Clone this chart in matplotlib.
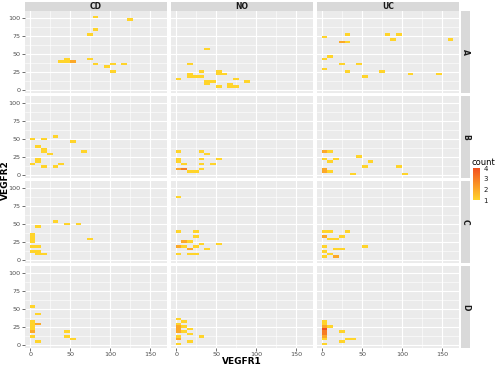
import numpy as np
import matplotlib
matplotlib.use('Agg')
import matplotlib.pyplot as plt
from matplotlib.colors import LinearSegmentedColormap

# facet labels
cols = ['CD', 'NO', 'UC']
rows = ['A', 'B', 'C', 'D']

# tiles per panel: (VEGFR1, VEGFR2, count)
CD_A = [(82, 103, 1), (124, 99.5, 1), (82, 83, 1), (74, 76, 1), (74, 42.6, 1),
        (82, 35.7, 1), (96, 32, 1), (103, 35.7, 1), (103, 25.5, 1), (117.5, 35.7, 1),
        (38, 39, 1), (45, 39, 1), (52, 39, 2), (45, 42.6, 1)]
CD_B = [(3, 48.6, 1), (17, 48.6, 1), (31, 51.8, 1), (52, 45.3, 1), (67.5, 31.4, 1),
        (9.6, 38.4, 1), (17, 34.7, 1), (17, 31, 1), (24, 28.2, 1), (9.6, 22, 1),
        (9.6, 18.5, 1), (3, 14.7, 1), (17, 11.5, 1), (31, 11.5, 1), (38, 14.7, 1)]
CD_C = [(3, 35, 1), (3, 31.4, 1), (3, 28, 1), (3, 24.5, 1), (3, 18.5, 1),
        (9.6, 18.5, 1), (3, 11.5, 1), (9.6, 11.5, 1), (9.6, 8, 1), (17, 8, 1),
        (9.6, 45, 1), (31, 51.8, 1), (46, 48.6, 1), (60, 48.6, 1), (74.7, 28.2, 1)]
CD_D = [(3, 51.8, 1), (9.6, 42, 1), (3, 31.4, 1), (3, 28, 1), (3, 24.5, 1),
        (3, 21, 1), (3, 17.5, 2), (9.6, 28.6, 2), (3, 11.5, 1), (9.6, 5, 1),
        (46, 18.5, 1), (46, 11.5, 1), (53, 7.8, 1)]
NO_A = [(38, 55.6, 1), (16.7, 35.7, 1), (2.5, 15.3, 1), (31, 25.5, 1), (17, 18, 1),
        (17, 22, 1), (24, 18, 1), (31, 18, 1), (53, 25.5, 1), (53, 22, 1),
        (59, 22, 1), (45, 12, 1), (38, 11, 1), (38, 7, 1), (53, 6, 1),
        (67.5, 6, 1), (67.5, 9, 1), (74, 6, 1), (74, 15.3, 1), (88, 12, 1)]
NO_B = [(2.5, 31.4, 1), (2.5, 18.5, 1), (2.5, 22, 1), (10, 15.3, 1), (10, 7.4, 3),
        (2.5, 8, 2), (17, 5, 1), (24, 5, 1), (31, 31.4, 1), (38, 28.2, 1),
        (31, 20.8, 1), (31, 14.3, 1), (31, 7.4, 1), (45, 14.3, 1), (53, 20.8, 1)]
NO_C = [(2.5, 88.4, 1), (2.5, 38.4, 1), (24, 38.4, 1), (24, 31.4, 1), (10, 26.8, 2),
        (17, 24.5, 1), (2.5, 18.5, 2), (10, 18.5, 1), (17, 14.3, 2), (24, 18.5, 1),
        (31, 21.3, 1), (53, 21.3, 1), (38, 14.3, 1), (2.5, 7.4, 1), (17, 7.4, 1),
        (24, 7.4, 1)]
NO_D = [(2.5, 34.7, 1), (10, 31, 1), (2.5, 28, 1), (2.5, 24.5, 2), (2.5, 21, 2),
        (2.5, 17.5, 2), (17, 22, 1), (10, 18.5, 1), (17, 15.3, 1), (2.5, 11.5, 1),
        (2.5, 7.4, 2), (2.5, 1.4, 1), (17, 5, 1), (31.7, 11.5, 1), (10, 24.5, 1)]
UC_A = [(3.4, 72.7, 1), (3.4, 42.6, 1), (10, 45.8, 1), (3.4, 29, 1), (32.5, 76.4, 1),
        (24.6, 65.7, 2), (32.5, 65.7, 1), (82, 76.4, 1), (96, 76.4, 1), (89, 69.4, 1),
        (161, 69.4, 1), (24.6, 35.7, 1), (46, 35.7, 1), (32.5, 25.5, 1), (53, 18.5, 1),
        (75, 25.5, 1), (111, 22, 1), (146, 22, 1)]
UC_B = [(3.4, 33.8, 1), (3.4, 31, 1), (10, 31.4, 1), (3.4, 20.8, 1), (10, 18.5, 1),
        (17, 20.8, 1), (3.4, 5, 2), (3.4, 8, 2), (10, 5, 1), (46, 24.5, 1),
        (61, 17.5, 1), (53, 10.6, 1), (39, 1.4, 1), (96, 10.6, 1), (104, 1.4, 1)]
UC_C = [(3.4, 38.4, 1), (3.4, 33.8, 2), (10, 28.2, 1), (3.4, 18.5, 1), (3.4, 11.5, 1),
        (3.4, 4.6, 1), (10, 8.3, 1), (10, 38.4, 1), (32.5, 38.4, 1), (25, 31.4, 1),
        (17, 28.2, 1), (17, 14.7, 1), (25, 14.7, 1), (17, 5, 2), (53, 18.5, 1)]
UC_D = [(3.4, 31, 1), (3.4, 28, 1), (3.4, 24.5, 2), (3.4, 21, 4), (3.4, 17.5, 3),
        (3.4, 14, 3), (3.4, 11.5, 2), (3.4, 8, 1), (3.4, 1.4, 1), (24.6, 17.5, 1),
        (24.6, 5, 1), (31.6, 8.3, 1), (38.75, 8.3, 1), (10, 24.5, 1)]

panels = {
    ('A', 'CD'): CD_A, ('B', 'CD'): CD_B, ('C', 'CD'): CD_C, ('D', 'CD'): CD_D,
    ('A', 'NO'): NO_A, ('B', 'NO'): NO_B, ('C', 'NO'): NO_C, ('D', 'NO'): NO_D,
    ('A', 'UC'): UC_A, ('B', 'UC'): UC_B, ('C', 'UC'): UC_C, ('D', 'UC'): UC_D,
}

xticks = [0, 50, 100, 150]
yticks = [0, 25, 50, 75, 100]
legend_ticks = [1, 2, 3, 4]

# bins like geom_bin2d
xedges = -0.575 + 7.15 * np.arange(0, 26)
yedges = -0.325 + 3.45 * np.arange(0, 33)

cmap = LinearSegmentedColormap.from_list(
    'cnt', ['#FFD42A', '#FCA828', '#F77C24', '#F2501F'])

W, H = 500, 367
fig = plt.figure(figsize=(W / 100, H / 100), dpi=100)


def frac(l, t, w, h):
    return [l / W, 1 - (t + h) / H, w / W, h / H]


col_left = [25, 171, 317]
row_top = [11, 96, 181, 266]
pw, ph = 142, 82
strip_bg = '#D9D9D9'

mappable = None
for i, r in enumerate(rows):
    for j, c in enumerate(cols):
        ax = fig.add_axes(frac(col_left[j], row_top[i], pw, ph))
        ax.set_facecolor('#EBEBEB')
        data = panels[(r, c)]
        xs = [d[0] for d in data]
        ys = [d[1] for d in data]
        ns = [d[2] for d in data]
        h = ax.hist2d(xs, ys, bins=[xedges, yedges], weights=ns, cmin=1,
                      cmap=cmap, vmin=1, vmax=4, zorder=2)
        mappable = h[3]
        ax.set_xlim(-6.5, 171)
        ax.set_ylim(-4.2, 109.7)
        ax.set_xticks(xticks)
        ax.set_yticks(yticks)
        ax.set_xticks([25, 75, 125], minor=True)
        ax.set_yticks([12.5, 37.5, 62.5, 87.5], minor=True)
        ax.grid(True, which='major', color='white', lw=0.8, zorder=0)
        ax.grid(True, which='minor', color='white', lw=0.4, zorder=0)
        ax.set_axisbelow(True)
        for s in ax.spines.values():
            s.set_visible(False)
        ax.tick_params(which='minor', length=0)
        ax.tick_params(which='major', length=2, width=0.5, color='#333333',
                       labelsize=4.6, labelcolor='#4D4D4D', pad=1)
        if j != 0:
            ax.tick_params(axis='y', which='major', length=0, labelleft=False)
        if i != len(rows) - 1:
            ax.tick_params(axis='x', which='major', length=0, labelbottom=False)

        # top strips
        if i == 0:
            sax = fig.add_axes(frac(col_left[j], 1.5, pw, 9.5))
            sax.set_facecolor(strip_bg)
            sax.set_xticks([])
            sax.set_yticks([])
            for s in sax.spines.values():
                s.set_visible(False)
            sax.text(0.5, 0.5, c, ha='center', va='center', fontsize=5.5,
                     fontweight='bold', color='#1A1A1A', transform=sax.transAxes)
        # right strips
        if j == len(cols) - 1:
            sax = fig.add_axes(frac(461, row_top[i], 9, ph))
            sax.set_facecolor(strip_bg)
            sax.set_xticks([])
            sax.set_yticks([])
            for s in sax.spines.values():
                s.set_visible(False)
            sax.text(0.5, 0.5, r, ha='center', va='center', fontsize=5.5,
                     fontweight='bold', color='#1A1A1A', rotation=-90,
                     transform=sax.transAxes)

fig.text(242 / W, 1 - 362 / H, 'VEGFR1', ha='center', va='center',
         fontsize=6.5, fontweight='bold')
fig.text(5.5 / W, 1 - 180 / H, 'VEGFR2', ha='center', va='center',
         fontsize=6.5, fontweight='bold', rotation=90)

# legend
fig.text(472 / W, 1 - 162 / H, 'count', ha='left', va='center', fontsize=6)
cax = fig.add_axes(frac(473, 168, 7, 32))
cb = fig.colorbar(mappable, cax=cax, ticks=legend_ticks)
cb.outline.set_visible(False)
cax.tick_params(length=1.5, color='white', width=0.5, labelsize=5, pad=1,
                labelcolor='#1A1A1A')

fig.savefig('out.png', dpi=100)
